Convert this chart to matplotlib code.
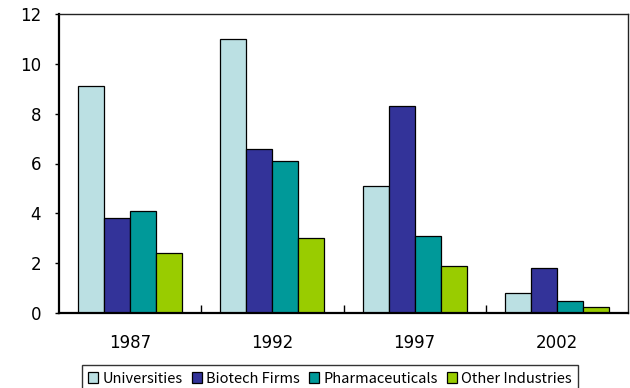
import numpy as np
import matplotlib
matplotlib.use("Agg")
import matplotlib.pyplot as plt

plt.rcParams['font.family'] = ['Noto Sans CJK JP', 'DejaVu Sans']

years = ["1987", "1992", "1997", "2002"]
series = ["Universities", "Biotech Firms", "Pharmaceuticals", "Other Industries"]
universities = [9.1, 11.0, 5.1, 0.8]
biotech = [3.8, 6.6, 8.3, 1.8]
pharma = [4.1, 6.1, 3.1, 0.5]
other = [2.4, 3.0, 1.9, 0.25]
colors = ["#BBE0E3", "#333399", "#009999", "#99CC00"]

fig = plt.figure(figsize=(6.3, 3.88), dpi=100)
ax = fig.add_axes([59 / 630, 1 - 313 / 388, 569 / 630, 299 / 388])

x = np.arange(len(years))
w = 0.183
for i, (vals, name) in enumerate(zip([universities, biotech, pharma, other], series)):
    ax.bar(x + (i - 1.5) * w, vals, w, color=colors[i], edgecolor="black",
           linewidth=0.9, label=name, zorder=2)

ax.set_xlim(-0.5, 3.5)
ax.set_ylim(0, 12)
ax.set_yticks(range(0, 13, 2))
ax.set_xticks(x)
ax.set_xticklabels(years)
ax.set_xticks([0.5, 1.5, 2.5], minor=True)
ax.tick_params(axis="x", which="major", length=0, pad=15)
ax.tick_params(axis="x", which="minor", length=6, direction="in", width=1)
ax.tick_params(axis="y", length=3, width=1, pad=10)
for lbl in ax.get_xticklabels() + ax.get_yticklabels():
    lbl.set_fontfamily("DejaVu Sans")
    lbl.set_fontsize(12)

for side in ["left", "bottom"]:
    ax.spines[side].set_linewidth(1.6)
    ax.spines[side].set_color("black")
for side in ["top", "right"]:
    ax.spines[side].set_linewidth(1.0)
    ax.spines[side].set_color("#222222")

leg = fig.legend(loc="upper center", bbox_to_anchor=(330 / 630, 1 - 365 / 388),
                 ncol=4, frameon=True, fancybox=False, edgecolor="black",
                 fontsize=10.5, handlelength=0.7, handleheight=0.7,
                 handletextpad=0.3, columnspacing=0.6, borderpad=0.45,
                 borderaxespad=0)
leg.get_frame().set_linewidth(1.0)

fig.savefig("out.png", dpi=100)
